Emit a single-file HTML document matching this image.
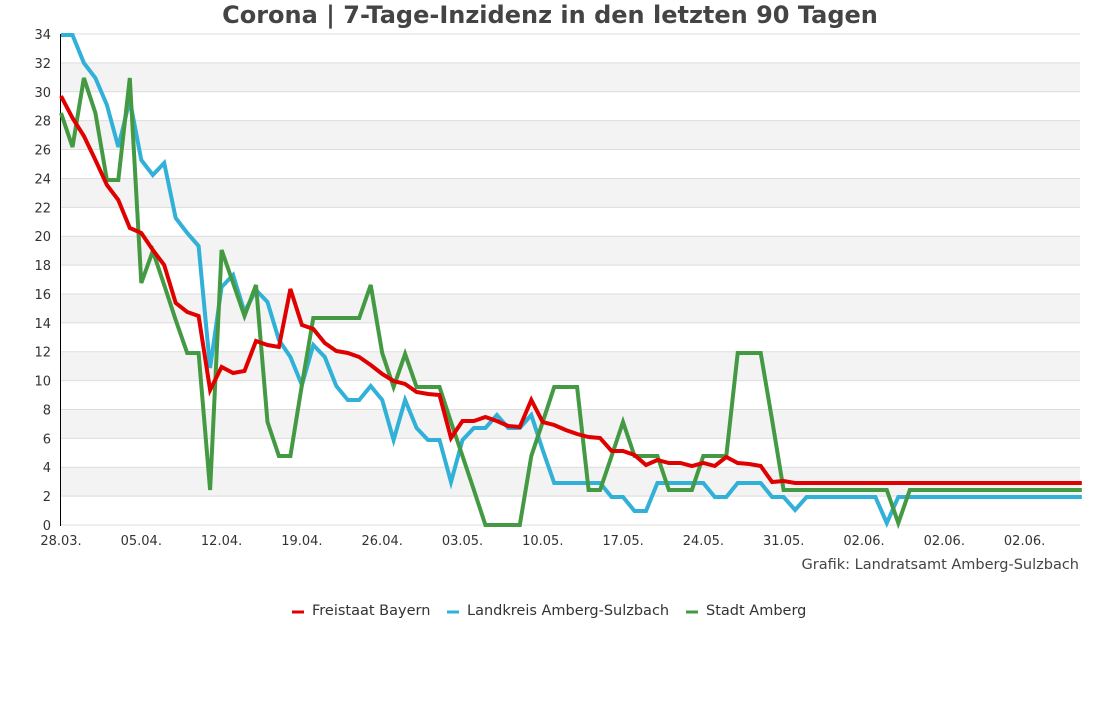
<!DOCTYPE html>
<html><head><meta charset="utf-8"><style>
body{margin:0;background:#fff;width:1100px;height:700px;overflow:hidden;font-family:"Liberation Sans","DejaVu Sans",sans-serif}
</style></head><body>
<svg id="s" width="1100" height="700" xmlns="http://www.w3.org/2000/svg" font-family="'DejaVu Sans','Liberation Sans',sans-serif">
<text x="550" y="23" text-anchor="middle" font-size="24" font-weight="bold" fill="#444">Corona | 7-Tage-Inzidenz in den letzten 90 Tagen</text>
<g id="grid"></g>
<line x1="60.5" y1="34" x2="60.5" y2="526" stroke="#000" stroke-width="1"/>
<g id="lines" fill="none" stroke-width="4" stroke-linejoin="miter"></g>
<g id="xl" font-size="13" fill="#333" text-anchor="middle"></g>
<text x="1079" y="569" text-anchor="end" font-size="14.5" fill="#444">Grafik: Landratsamt Amberg-Sulzbach</text>
<g font-size="14.5" fill="#333">
<line x1="292" y1="612" x2="304" y2="612" stroke="#e00000" stroke-width="3"/><text x="312" y="615">Freistaat Bayern</text>
<line x1="447" y1="612" x2="459" y2="612" stroke="#31b0d8" stroke-width="3"/><text x="467" y="615">Landkreis Amberg-Sulzbach</text>
<line x1="686" y1="612" x2="698" y2="612" stroke="#449a42" stroke-width="3"/><text x="706" y="615">Stadt Amberg</text>
</g>
</svg>
<script>
var NS="http://www.w3.org/2000/svg";
function el(p,t,a,txt){var e=document.createElementNS(NS,t);for(var k in a)e.setAttribute(k,a[k]);if(txt!=null)e.textContent=txt;p.appendChild(e);return e;}
var g=document.getElementById('grid');
function Y(v){return 525-v*14.44;}
for(var v=0;v<34;v+=2){ if(v%4==2) el(g,'rect',{x:61,y:Y(v+2),width:1019,height:28.88,fill:'#f3f3f3'}); }
for(var v=0;v<=34;v+=2){ el(g,'line',{x1:61,x2:1080,y1:Y(v),y2:Y(v),stroke:'#ddd','stroke-width':1});
 el(g,'text',{x:51,y:Y(v)+5,'text-anchor':'end','font-size':13,fill:'#333'},String(v)); }
var labs=["28.03.","05.04.","12.04.","19.04.","26.04.","03.05.","10.05.","17.05.","24.05.","31.05.","02.06.","02.06.","02.06."];
var xl=document.getElementById('xl');
labs.forEach(function(l,i){el(xl,'text',{x:61+i*80.3,y:545},l);});
function X(i){return 61+i*11.47;}
var red=[96,118,136,160,185,200,228,233,250,265,303,312,316,390,367,373,371,341,345,347,289,325,329,343,351,353,357,365,374,381,384,392,394,395,438,421,421,417,421,426,427,400,422,425,430,434,437,438,451,451,455,465,460,463,463,466,463,466,457,463,464,466,482,481];
while(red.length<90)red.push(483);
var blue=[35,35,63,78,105,147,100,160,175,163,218,233,246,368,287,275,312,290,302,340,357,385,345,357,386,400,400,386,400,440,400,428,440,440,482,440,428,428,415,428,428,415,450,483,483,483,483,483,497,497,511,511,483,483,483,483,483,497,497,483,483,483,497,497,510,497,497,497,497,497,497,497,523,497];
while(blue.length<90)blue.push(497);
var green=[113,147,78,113,180,180,78,283,251,285,320,353,353,490,250,283,316,285,422,456,456,385,318,318,318,318,318,285,353,387,354,387,387,387,422,456,490,525,525,525,525,456,422,387,387,387,490,490,456,422,456,456,456,490,490,490,456,456,456,353,353,353,420,490,490,490,490,490,490,490,490,490,490,523,490];
while(green.length<90)green.push(490);
var L=document.getElementById('lines');
[[blue,'#31b0d8'],[green,'#449a42'],[red,'#e00000']].forEach(function(s){
 el(L,'polyline',{points:s[0].map(function(y,i){return X(i).toFixed(1)+','+y;}).join(' '),stroke:s[1]});
});
</script>
</body></html>
